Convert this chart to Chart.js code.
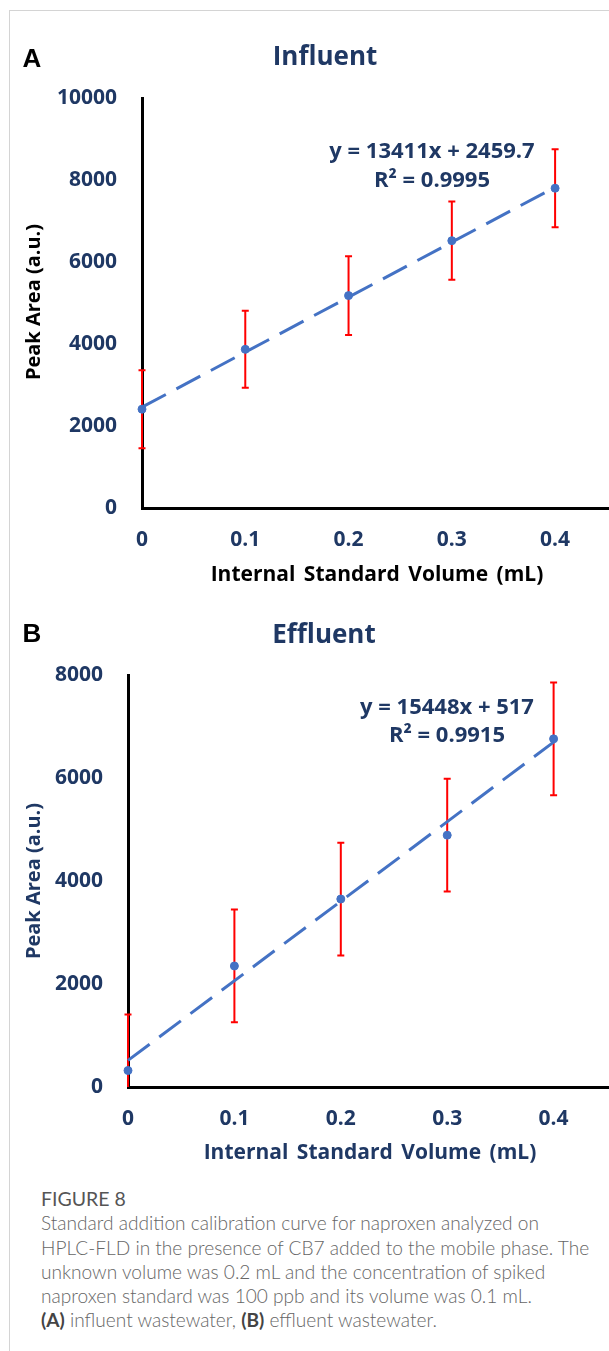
<!DOCTYPE html>
<html>
<head>
<meta charset="utf-8">
<script src="https://cdn.jsdelivr.net/npm/chart.js@4.4.0/dist/chart.umd.min.js"></script>
<style>
  body { margin: 0; width: 609px; height: 1351px; position: relative; overflow: hidden; background: #fff; font-family: "Open Sans", sans-serif; }
  .frame { position: absolute; left: 9px; top: 10px; width: 700px; height: 1400px; border-left: 1px solid #d4d4d4; border-top: 1px solid #d4d4d4; }
  canvas { position: absolute; left: 0; }
  .t { position: absolute; white-space: nowrap; line-height: 1; transform: translate(-50%, -50%); font-weight: 700; }
  .navy { color: #1f3864; }
  .letter { font-family: "Liberation Sans", Arial, sans-serif; font-size: 26px; color: #000; }
  .title { font-size: 26px; }
  .axt { font-size: 21px; word-spacing: 3px; }
  .eq { font-size: 22px; }
  .ytitle { transform: translate(-50%, -50%) rotate(-90deg); font-size: 20px; }
  .cap { position: absolute; left: 41px; top: 1187px; font-family: Lato, "Noto Sans", sans-serif; font-weight: 300; font-size: 19.1px; line-height: 24.3px; color: #666; }
  .cap .fig { font-weight: 400; font-size: 19.5px; color: #555; }
  .cap b { font-weight: 700; color: #444; }
</style>
</head>
<body>
<div class="frame"></div>

<canvas id="chartA" width="620" height="560" style="top:0px"></canvas>
<canvas id="chartB" width="620" height="559" style="top:580px"></canvas>

<div class="t letter" style="left:32px; top:58px;">A</div>
<div class="t title navy" style="left:325px; top:55px;">Influent</div>
<div class="t ytitle" style="left:33px; top:302px; color:#000;">Peak Area (a.u.)</div>
<div class="t axt" style="left:377px; top:573px; color:#000;">Internal Standard Volume (mL)</div>
<div class="t eq navy" style="left:432px; top:149px;">y = 13411x + 2459.7</div>
<div class="t eq navy" style="left:432px; top:178px;">R² = 0.9995</div>

<div class="t letter" style="left:32px; top:633px;">B</div>
<div class="t title navy" style="left:324px; top:633px;">Effluent</div>
<div class="t ytitle navy" style="left:33px; top:881px;">Peak Area (a.u.)</div>
<div class="t axt navy" style="left:370px; top:1151px;">Internal Standard Volume (mL)</div>
<div class="t eq navy" style="left:447px; top:705px;">y = 15448x + 517</div>
<div class="t eq navy" style="left:447px; top:733px;">R² = 0.9915</div>

<div class="cap">
  <span class="fig">FIGURE 8</span><br>
  Standard addition calibration curve for naproxen analyzed on<br>
  HPLC-FLD in the presence of CB7 added to the mobile phase. The<br>
  unknown volume was 0.2 mL and the concentration of spiked<br>
  naproxen standard was 100 ppb and its volume was 0.1 mL.<br>
  <b>(A)</b> influent wastewater, <b>(B)</b> effluent wastewater.
</div>

<script>
// internal standard volume (mL)
const volumes = [0, 0.1, 0.2, 0.3, 0.4];
const xTicks = [0, 0.1, 0.2, 0.3, 0.4];

// influent
const influentArea = [2410, 3870, 5180, 6520, 7800];
const influentErr = [950, 940, 960, 955, 950];
const influentTrend = [2460, 7824];   // fitted line at x = 0 and x = 0.4
const influentYTicks = [0, 2000, 4000, 6000, 8000, 10000];

// effluent
const effluentArea = [320, 2350, 3650, 4890, 6760];
const effluentErr = [1090, 1095, 1095, 1095, 1095];
const effluentTrend = [517, 6696];
const effluentYTicks = [0, 2000, 4000, 6000, 8000];

const trendX = [0, 0.4];

const NAVY = '#1f3864';
const BLUE = '#4472c4';

// red error bars, drawn under the markers
const errorBars = {
  id: 'errorBars',
  beforeDatasetsDraw(chart, args, opts) {
    const ctx = chart.ctx;
    const xs = chart.scales.x, ys = chart.scales.y;
    ctx.save();
    ctx.strokeStyle = '#ff0000';
    ctx.lineWidth = 2;
    opts.values.forEach((v, i) => {
      const px = xs.getPixelForValue(opts.x[i]);
      const top = ys.getPixelForValue(v + opts.err[i]);
      const bot = ys.getPixelForValue(Math.max(v - opts.err[i], ys.min));
      ctx.beginPath();
      ctx.moveTo(px, top); ctx.lineTo(px, bot);
      ctx.moveTo(px - 3.5, top); ctx.lineTo(px + 3.5, top);
      if (v - opts.err[i] > ys.min) { ctx.moveTo(px - 3.5, bot); ctx.lineTo(px + 3.5, bot); }
      ctx.stroke();
    });
    ctx.restore();
  }
};

function makeChart(id, area, err, trend, yTicks, yMax, xMax, padTop, yWidth) {
  new Chart(document.getElementById(id), {
    type: 'scatter',
    data: {
      datasets: [
        {
          data: trendX.map((x, i) => ({ x: x, y: trend[i] })),
          showLine: true,
          borderColor: BLUE,
          borderWidth: 3,
          borderDash: [27, 12],
          pointRadius: 0,
          clip: false
        },
        {
          data: volumes.map((x, i) => ({ x: x, y: area[i] })),
          backgroundColor: BLUE,
          borderColor: BLUE,
          pointRadius: 4,
          clip: false
        }
      ]
    },
    options: {
      responsive: false,
      animation: false,
      devicePixelRatio: 1,
      layout: { padding: { top: padTop, right: 0, bottom: 0, left: 0 } },
      plugins: {
        legend: { display: false },
        tooltip: { enabled: false },
        errorBars: { x: volumes, values: area, err: err }
      },
      scales: {
        x: {
          type: 'linear',
          min: 0,
          max: xMax,
          grid: { display: false, drawTicks: false },
          border: { display: true, color: '#000', width: 3 },
          ticks: { color: NAVY, padding: 19, font: { family: 'Open Sans', size: 21, weight: 'bold' }, callback: v => String(v) },
          afterBuildTicks: s => { s.ticks = xTicks.map(v => ({ value: v })); },
          afterFit: s => { s.height = 52; }
        },
        y: {
          min: 0,
          max: yMax,
          grid: { display: false, drawTicks: false },
          border: { display: true, color: '#000', width: 3 },
          ticks: { color: NAVY, padding: 25, font: { family: 'Open Sans', size: 21, weight: 'bold' }, callback: v => String(v) },
          afterBuildTicks: s => { s.ticks = yTicks.map(v => ({ value: v })); },
          afterFit: s => { s.width = yWidth; }
        }
      }
    },
    plugins: [errorBars]
  });
}

makeChart('chartA', influentArea, influentErr, influentTrend, influentYTicks, 10000, 0.458, 98, 142);
makeChart('chartB', effluentArea, effluentErr, effluentTrend, effluentYTicks, 8000, 0.4577, 95, 128);
</script>
</body>
</html>
